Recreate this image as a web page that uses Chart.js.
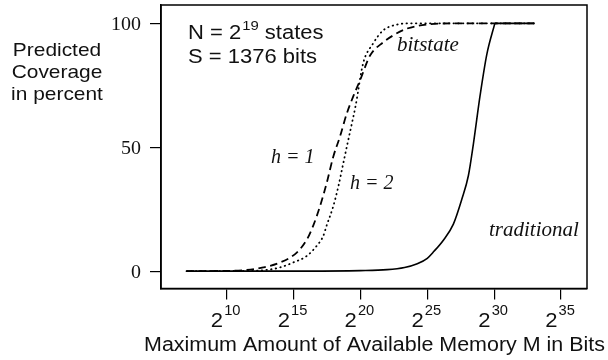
<!DOCTYPE html>
<html>
<head>
<meta charset="utf-8">
<script src="https://cdn.jsdelivr.net/npm/chart.js@4.4.1/dist/chart.umd.min.js"></script>
<style>
html,body{margin:0;padding:0;background:#fff;}
canvas{display:block;}
</style>
</head>
<body>
<canvas id="c" width="608" height="360" style="width:608px;height:360px"></canvas>
<script>
// ---- data (x = log2 of memory in bits, y = predicted coverage in percent) ----
const xTicks = [10, 15, 20, 25, 30, 35];
const yTicks = [0, 50, 100];

const h1X = [7, 10, 11.5, 12.74, 14, 15.24, 16, 16.48, 16.98, 17.48, 17.97, 18.47, 18.98, 19.5, 19.97, 20.72, 21.69, 22.44, 23.49, 25, 27, 33];
const h1Y = [0, 0.1, 0.5, 1.5, 3.5, 7.5, 12.8, 18.5, 26.2, 35.6, 46.2, 54.3, 63.6, 71, 77, 87, 92.3, 95.1, 97.9, 99.5, 100, 100];

const h2X = [7, 11, 12.99, 13.99, 14.98, 15.98, 16.73, 17.22, 17.48, 17.97, 18.35, 18.72, 19.09, 19.47, 19.65, 20.2, 20.94, 21.69, 22.74, 23.9, 33];
const h2Y = [0, 0.1, 0.5, 1.5, 3.5, 6.1, 10.2, 14.2, 18.5, 26.2, 34.2, 43.6, 52.9, 62.3, 67, 83.8, 91.8, 97.1, 99.5, 100, 100];

const tradX = [7, 16, 20, 22, 23.3, 24.25, 25, 25.5, 26.2, 26.95, 27.58, 28.07, 28.45, 28.95, 29.45, 30.05];
const tradY = [0, 0, 0.2, 0.6, 1.5, 3, 5.2, 8, 12.5, 19, 29, 38.5, 51.5, 71, 87.5, 100];
const tradTopX = [30.05, 33];
const tradTopY = [100, 100];

const pts = (xs, ys) => xs.map((x, i) => ({x: x, y: ys[i]}));

const SANS = '"Liberation Sans", Arial, sans-serif';
const SERIF = '"Liberation Serif", "Times New Roman", serif';

function txt(ctx, s, x, y, font, align, sx) {
  ctx.save();
  ctx.font = font;
  ctx.textBaseline = 'alphabetic';
  ctx.textAlign = 'left';
  const w = ctx.measureText(s).width * sx;
  let x0 = x;
  if (align === 'center') x0 = x - w / 2;
  else if (align === 'right') x0 = x - w;
  ctx.translate(x0, y);
  ctx.scale(sx, 1);
  ctx.fillText(s, 0, 0);
  ctx.restore();
  return w;
}
function width(ctx, s, font, sx) {
  ctx.save(); ctx.font = font; const w = ctx.measureText(s).width * sx; ctx.restore(); return w;
}

const textPlugin = {
  id: 'texts',
  afterDraw(chart) {
    const ctx = chart.ctx;
    const ca = chart.chartArea;
    const xs = chart.scales.x, ys = chart.scales.y;
    ctx.save();
    // frame
    ctx.strokeStyle = '#000';
    ctx.lineWidth = 1.5;
    ctx.strokeRect(ca.left, ca.top, ca.right - ca.left, ca.bottom - ca.top);
    ctx.fillStyle = '#111';

    // y tick labels
    yTicks.forEach(v => {
      txt(ctx, String(v), 141, ys.getPixelForValue(v) + 6.5, '19px ' + SERIF, 'right', 1.05);
    });
    // x tick labels 2^n
    const bigF = '21px ' + SANS, supF = '14px ' + SANS, sxT = 1.05;
    xTicks.forEach(v => {
      const px = xs.getPixelForValue(v);
      const w1 = width(ctx, '2', bigF, sxT), w2 = width(ctx, String(v), supF, sxT);
      const x0 = px - (w1 + w2 + 1) / 2 - 1;
      txt(ctx, '2', x0, 326.5, bigF, 'left', sxT);
      txt(ctx, String(v), x0 + w1 + 1, 315, supF, 'left', sxT);
    });
    // axis titles
    const tF = '19.5px ' + SANS;
    txt(ctx, 'Maximum Amount of Available Memory M in Bits', (ca.left + ca.right) / 2 + 0.5, 351, tF, 'center', 1.1);
    txt(ctx, 'Predicted', 57, 56, '19px ' + SANS, 'center', 1.1);
    txt(ctx, 'Coverage', 57, 78, '19px ' + SANS, 'center', 1.1);
    txt(ctx, 'in percent', 57, 100, '19px ' + SANS, 'center', 1.1);

    // annotation N = 2^19 states / S = 1376 bits
    const aF = '20px ' + SANS, aS = '13.5px ' + SANS, sxA = 1.1;
    let x = 188;
    x += txt(ctx, 'N = 2', x, 39, aF, 'left', sxA) + 1;
    x += txt(ctx, '19', x, 30, aS, 'left', sxA);
    txt(ctx, ' states', x, 39, aF, 'left', sxA);
    txt(ctx, 'S = 1376 bits', 188, 63, aF, 'left', sxA);

    // curve labels
    const iF = 'italic 20px ' + SERIF;
    txt(ctx, 'bitstate', 397, 51, iF, 'left', 1.05);
    txt(ctx, 'h = 1', 271, 163, iF, 'left', 1.0);
    txt(ctx, 'h = 2', 350, 189, iF, 'left', 1.0);
    txt(ctx, 'traditional', 489, 236, iF, 'left', 1.05);
    ctx.restore();
  }
};

new Chart(document.getElementById('c').getContext('2d'), {
  type: 'line',
  data: {
    datasets: [
      {label: 'h = 1', data: pts(h1X, h1Y), borderColor: '#000', borderWidth: 1.8,
       borderDash: [7.5, 4.5], cubicInterpolationMode: 'monotone'},
      {label: 'h = 2', data: pts(h2X, h2Y), borderColor: '#000', borderWidth: 1.8,
       borderDash: [0.5, 4.2], borderCapStyle: 'round', cubicInterpolationMode: 'monotone'},
      {label: 'traditional', data: pts(tradX, tradY), borderColor: '#000', borderWidth: 1.6,
       cubicInterpolationMode: 'monotone'},
      {label: 'traditional (full)', data: pts(tradTopX, tradTopY), borderColor: '#000', borderWidth: 1.6,
       tension: 0}
    ]
  },
  options: {
    responsive: false,
    animation: false,
    events: [],
    layout: {padding: {top: 5, right: 21, left: 0, bottom: 0}},
    plugins: {legend: {display: false}, tooltip: {enabled: false}},
    elements: {point: {radius: 0}},
    scales: {
      x: {
        type: 'linear', min: 5.09, max: 36.94,
        afterBuildTicks: s => { s.ticks = xTicks.map(v => ({value: v})); },
        ticks: {display: false},
        grid: {drawOnChartArea: false, drawTicks: true, tickLength: 11, color: '#000', lineWidth: 1.2},
        border: {display: true, color: '#000', width: 1.5},
        afterFit: s => { s.height = 71.5; }
      },
      y: {
        type: 'linear', min: -7, max: 107.4,
        afterBuildTicks: s => { s.ticks = yTicks.map(v => ({value: v})); },
        ticks: {display: false},
        grid: {drawOnChartArea: false, drawTicks: true, tickLength: 11, color: '#000', lineWidth: 1.2},
        border: {display: true, color: '#000', width: 1.5},
        afterFit: s => { s.width = 161; }
      }
    }
  },
  plugins: [textPlugin]
});
</script>
</body>
</html>
